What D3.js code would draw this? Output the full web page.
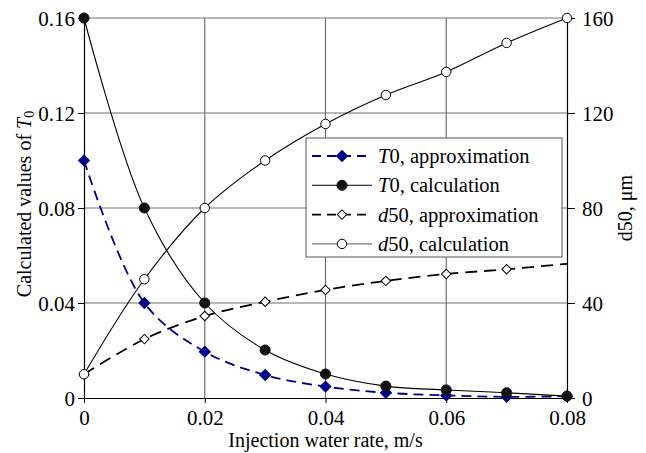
<!DOCTYPE html>
<html>
<head>
<meta charset="utf-8">
<script src="https://cdn.jsdelivr.net/npm/d3@7"></script>
<style>
  body { margin: 0; background: #fff; }
  text { font-family: "Liberation Serif", "Times New Roman", serif; }
</style>
</head>
<body>
<div id="chart"></div>
<script>
// data
var rates = [0, 0.01, 0.02, 0.03, 0.04, 0.05, 0.06, 0.07, 0.08];
var t0Approx = [0.1, 0.04, 0.0195, 0.0097, 0.0048, 0.0022, 0.0011, 0.0005, 0.0007];
var t0Calc = [0.16, 0.08, 0.04, 0.0202, 0.0101, 0.005, 0.0034, 0.0022, 0.0008];
var d50Approx = [10, 24.8, 34.5, 40.5, 45.5, 49.3, 52.2, 54.2, 56.5];
var d50Calc = [10, 50, 80, 100, 115.4, 127.6, 137.3, 149.5, 160];
var xTicks = [0, 0.02, 0.04, 0.06, 0.08];
var leftTicks = [0, 0.04, 0.08, 0.12, 0.16];
var rightTicks = [0, 40, 80, 120, 160];

var width = 646, height = 453;
var margin = { top: 18, right: 79, bottom: 55, left: 84 };
var w = width - margin.left - margin.right, h = height - margin.top - margin.bottom;

var svg = d3.select("#chart").append("svg")
    .attr("width", width).attr("height", height);
var g = svg.append("g")
    .attr("transform", "translate(" + margin.left + "," + margin.top + ")");

var x = d3.scaleLinear().domain([0, 0.08]).range([0, w]);
var yL = d3.scaleLinear().domain([0, 0.16]).range([h, 0]);
var yR = d3.scaleLinear().domain([0, 160]).range([h, 0]);

// gridlines
g.selectAll(".hgrid").data(leftTicks.slice(1)).enter().append("line")
    .attr("x1", 0).attr("x2", w)
    .attr("y1", function (d) { return yL(d); }).attr("y2", function (d) { return yL(d); })
    .attr("stroke", "#707070").attr("stroke-width", 1.2);
g.selectAll(".vgrid").data(xTicks.slice(1, -1)).enter().append("line")
    .attr("y1", 0).attr("y2", h)
    .attr("x1", function (d) { return x(d); }).attr("x2", function (d) { return x(d); })
    .attr("stroke", "#707070").attr("stroke-width", 1.2);

// axes
var fmt = function (d) { return d === 0 ? "0" : d3.format(".2f")(d); };
var ax = g.append("g").attr("transform", "translate(0," + h + ")")
    .call(d3.axisBottom(x).tickValues(xTicks).tickFormat(fmt).tickSizeInner(5).tickSizeOuter(0));
var al = g.append("g")
    .call(d3.axisLeft(yL).tickValues(leftTicks).tickFormat(fmt).tickSizeInner(6).tickSizeOuter(0));
var ar = g.append("g").attr("transform", "translate(" + w + ",0)")
    .call(d3.axisRight(yR).tickValues(rightTicks).tickSizeInner(8).tickSizeOuter(0));
[ax, al, ar].forEach(function (a) {
    a.selectAll("text").attr("font-family", "Liberation Serif").attr("font-size", 21).attr("fill", "#000");
    a.selectAll("line").attr("stroke", "#000");
    a.select(".domain").attr("stroke", "#000").attr("stroke-width", 1.2);
});
ax.selectAll("text").attr("y", 27).attr("dy", 0);
al.selectAll("text").attr("dy", "0.35em").attr("x", -9);
ar.selectAll("text").attr("dy", "0.35em").attr("x", 15);

// axis titles
g.append("text").attr("x", w / 2).attr("y", 429).attr("text-anchor", "middle")
    .attr("font-size", 20).text("Injection water rate, m/s");
var lt = g.append("text").attr("transform", "translate(-53,186) rotate(-90)")
    .attr("text-anchor", "middle").attr("font-size", 20);
lt.append("tspan").text("Calculated values of ");
lt.append("tspan").attr("font-style", "italic").text("T");
lt.append("tspan").attr("font-size", 14).attr("dy", 3).text("0");
g.append("text").attr("transform", "translate(" + (w + 65) + ",190) rotate(-90)")
    .attr("text-anchor", "middle").attr("font-size", 20).text("d50, \u03bcm");

// series
var series = [
    { key: "T0", label: ", approximation", vals: t0Approx, y: yL, color: "#00008b", dash: "10,6", marker: "diamond", fill: "#00008b", legendLine: "#00008b", size: 60 },
    { key: "T0", label: ", calculation", vals: t0Calc, y: yL, color: "#000", dash: null, marker: "circle", fill: "#111", legendLine: "#000", size: 80 },
    { key: "d50", label: ", approximation", vals: d50Approx, y: yR, color: "#000", dash: "12,7", marker: "diamond", fill: "#fff", legendLine: "#000", size: 45, skipLast: true },
    { key: "d50", label: ", calculation", vals: d50Calc, y: yR, color: "#000", dash: null, marker: "circle", fill: "#fff", legendLine: "#777", size: 70 }
];

function drawMarker(sel, s) {
    var sym = s.marker === "diamond"
        ? d3.symbol().type(d3.symbolSquare).size(s.size)
        : d3.symbol().type(d3.symbolCircle).size(s.size);
    sel.append("path")
        .attr("d", sym())
        .attr("transform", s.marker === "diamond" ? "rotate(45)" : null)
        .attr("fill", s.fill)
        .attr("stroke", s.fill === "#fff" ? "#000" : s.fill)
        .attr("stroke-width", 1);
}

// draw lines first, then markers
series.forEach(function (s) {
    var pts = rates.map(function (r, i) { return [x(r), s.y(s.vals[i])]; });
    var line = d3.line().curve(d3.curveCatmullRom.alpha(0.5));
    g.append("path").attr("d", line(pts)).attr("fill", "none")
        .attr("stroke", s.color).attr("stroke-width", s.dash ? 1.8 : 1.1)
        .attr("stroke-dasharray", s.dash);
});
series.forEach(function (s) {
    rates.forEach(function (r, i) {
        if (s.skipLast && i === rates.length - 1) return;
        var m = g.append("g").attr("transform", "translate(" + x(r) + "," + s.y(s.vals[i]) + ")");
        drawMarker(m, s);
    });
});

// legend
var lg = g.append("g").attr("transform", "translate(222,120)");
lg.append("rect").attr("width", 256).attr("height", 119)
    .attr("fill", "#fff").attr("stroke", "#555").attr("stroke-width", 1);
series.forEach(function (s, i) {
    var yy = 18 + i * 29.3;
    lg.append("line").attr("x1", 6).attr("x2", 66).attr("y1", yy).attr("y2", yy)
        .attr("stroke", s.legendLine).attr("stroke-width", s.dash ? 1.8 : 1.1)
        .attr("stroke-dasharray", s.dash ? "9,6" : null);
    drawMarker(lg.append("g").attr("transform", "translate(36," + yy + ")"), s);
    var t = lg.append("text").attr("x", 72).attr("y", yy).attr("dy", "0.35em").attr("font-size", 20.5);
    if (s.key === "T0") {
        t.append("tspan").attr("font-style", "italic").text("T");
        t.append("tspan").text("0" + s.label);
    } else {
        t.append("tspan").attr("font-style", "italic").text("d");
        t.append("tspan").text("50" + s.label);
    }
});
</script>
</body>
</html>
